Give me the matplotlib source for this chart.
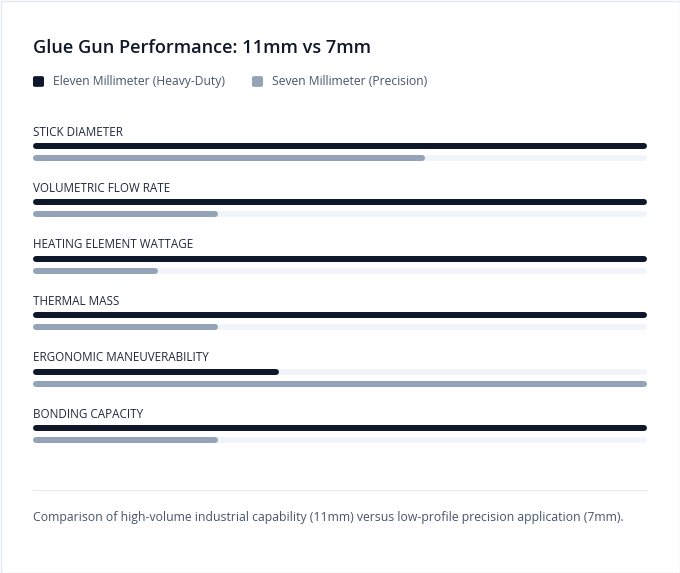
import matplotlib.pyplot as plt
from matplotlib.patches import FancyBboxPatch, Rectangle

categories = ["STICK DIAMETER", "VOLUMETRIC FLOW RATE", "HEATING ELEMENT WATTAGE",
              "THERMAL MASS", "ERGONOMIC MANEUVERABILITY", "BONDING CAPACITY"]
eleven_mm = [100, 100, 100, 100, 39.5, 100]
seven_mm = [63.5, 29.5, 19.5, 29.5, 100, 29.5]
series_names = ["Eleven Millimeter (Heavy-Duty)", "Seven Millimeter (Precision)"]

dark = "#0f172a"
gray = "#94a3b8"
track = "#f1f5f9"

W, H = 680, 573
fig = plt.figure(figsize=(W / 100, H / 100), dpi=100)
fig.patch.set_facecolor("white")
plt.rcParams['font.family'] = ['Open Sans', 'DejaVu Sans']

# card border
fig.add_artist(Rectangle((0.5 / W, 0.5 / H), 1 - 1 / W, 1 - 1 / H, transform=fig.transFigure,
                         fill=False, edgecolor="#e2e8f0", linewidth=1))

fig.text(33 / W, 1 - 48 / H, "Glue Gun Performance: 11mm vs 7mm", fontsize=13.1,
         fontweight="semibold", color="#0f172a", va="center", ha="left")

# legend
lx = [33, 252]
for i, name in enumerate(series_names):
    sq = FancyBboxPatch(((lx[i] + 1) / W, 1 - 86 / H), 9 / W, 9 / H,
                        boxstyle="round,pad=0.0015,rounding_size=0.003",
                        transform=fig.transFigure, facecolor=[dark, gray][i], edgecolor="none")
    fig.add_artist(sq)
    fig.text((lx[i] + 20) / W, 1 - 81.5 / H, name, fontsize=8.75, color="#475569",
             va="center", ha="left")

# bars area
top, bot = 120, 450
ax = fig.add_axes([33 / W, 1 - bot / H, 614 / W, (bot - top) / H])
a = 300 / 608
ax.set_xlim(-a, 100 + a)
ax.set_ylim(bot - top, 0)
ax.axis("off")

lw = 6 * 72 / 100
step = 56.4
for i, cat in enumerate(categories):
    base = 12 + i * step
    ax.text(-a, base, cat, fontsize=8.4, color="#1e293b", fontweight="medium",
            va="center", ha="left")
    for j, vals in enumerate([eleven_mm, seven_mm]):
        y = base + 14 + 12 * j
        ax.plot([0, 100], [y, y], color=track, lw=lw, solid_capstyle="round")
        ax.plot([0, vals[i]], [y, y], color=[dark, gray][j], lw=lw, solid_capstyle="round")

# separator and caption
fig.add_artist(plt.Line2D([33 / W, 647 / W], [1 - 490 / H, 1 - 490 / H], transform=fig.transFigure,
                          color="#e5e7eb", linewidth=0.8))
fig.text(33 / W, 1 - 518 / H,
         "Comparison of high-volume industrial capability (11mm) versus low-profile precision application (7mm).",
         fontsize=8.8, color="#475569", va="center", ha="left")

fig.savefig("out.png", dpi=100)
